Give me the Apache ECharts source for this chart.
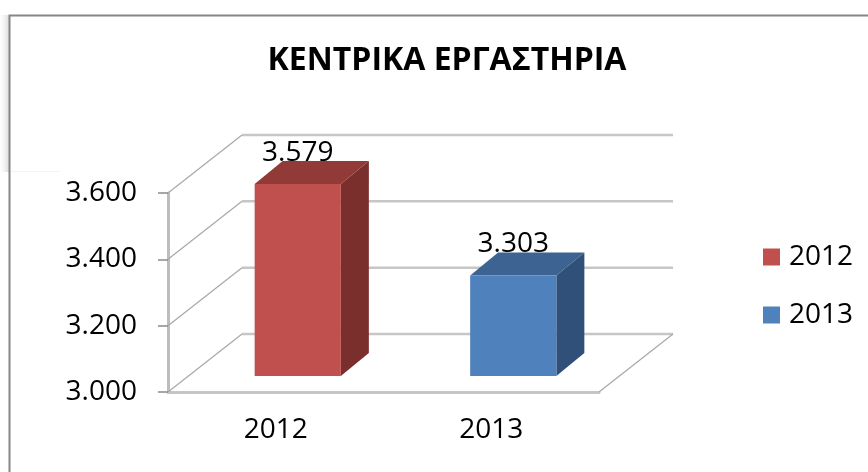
<!DOCTYPE html>
<html>
<head>
<meta charset="utf-8">
<script src="https://cdn.jsdelivr.net/npm/echarts@6/dist/echarts.min.js"></script>
<style>
  html, body { margin: 0; padding: 0; background: #fff; }
  #chart { width: 868px; height: 472px; }
</style>
</head>
<body>
<div id="chart"></div>
<script>
// data
const years = ['2012', '2013']
const values = [3579, 3303]
const yTicks = [3000, 3200, 3400, 3600]
const barColors = [
  { front: '#C0504D', side: '#7B2F2D', top: '#923A38' },
  { front: '#4F81BD', side: '#30507A', top: '#3C6391' }
]

// 3d projection (pixels)
const DX = 74, DY = -58        // full depth of the floor / walls
const FX = 22, FY = -16        // bar front face offset into the floor
const BX = 28, BY = -23        // bar depth
const FONT = 'Open Sans'

// greek style thousands separator: 3579 -> 3.579
function fmt(v) {
  const k = Math.floor(v / 1000)
  return k + '.' + String(v % 1000).padStart(3, '0')
}

function renderWall(params, api) {
  const cs = params.coordSys
  const y = api.coord([0, api.value(1)])[1]
  const x0 = cs.x, x1 = cs.x + cs.width
  const children = [
    { type: 'line', shape: { x1: x0 + DX, y1: y + DY, x2: x1 + DX, y2: y + DY },
      style: { stroke: '#c6c6c6', lineWidth: 2.5 } },
    { type: 'line', shape: { x1: x0, y1: y, x2: x0 + DX, y2: y + DY },
      style: { stroke: '#a8a8a8', lineWidth: 1.2 } }
  ]
  if (params.dataIndex === 0) {
    children.push({ type: 'line', shape: { x1: x1, y1: y, x2: x1 + DX, y2: y + DY },
      style: { stroke: '#a8a8a8', lineWidth: 1.2 } })
  }
  return { type: 'group', children }
}

function renderBar(params, api) {
  const c = barColors[params.seriesIndex - 1]
  const cat = api.value(0)
  const base = api.coord([cat, yTicks[0]])
  const top = api.coord([cat, api.value(1)])
  const w = api.size([1, 0])[0] * 0.4
  const xl = base[0] - w / 2 + FX, xr = xl + w
  const yb = base[1] + FY, yt = top[1] + FY
  return {
    type: 'group',
    children: [
      { type: 'polygon', shape: { points: [[xr, yt], [xr + BX, yt + BY], [xr + BX, yb + BY], [xr, yb]] },
        style: { fill: c.side } },
      { type: 'polygon', shape: { points: [[xl, yt], [xr, yt], [xr + BX, yt + BY], [xl + BX, yt + BY]] },
        style: { fill: c.top } },
      { type: 'rect', shape: { x: xl, y: yt, width: w, height: yb - yt },
        style: { fill: c.front } },
      { type: 'text', x: (xl + xr) / 2, y: yt + BY + 6,
        style: { text: fmt(api.value(1)), fill: '#000', font: '28px "' + FONT + '"',
          textAlign: 'center', textVerticalAlign: 'bottom' } }
    ]
  }
}

const chart = echarts.init(document.getElementById('chart'))

chart.setOption({
  animation: false,
  backgroundColor: '#fff',
  title: {
    text: 'ΚΕΝΤΡΙΚΑ ΕΡΓΑΣΤΗΡΙΑ',
    left: 447, top: 45, textAlign: 'center', padding: 0,
    textStyle: { fontFamily: FONT, fontSize: 32, fontWeight: 'bold', color: '#000' }
  },
  legend: {
    data: years,
    orient: 'vertical',
    left: 763, top: 242, padding: 0,
    icon: 'rect', itemWidth: 17, itemHeight: 17, itemGap: 28,
    textStyle: { fontFamily: FONT, fontSize: 28, lineHeight: 30, color: '#000', padding: [0, 0, 0, 4] }
  },
  grid: { left: 168, top: 193, right: 269, bottom: 80 },
  xAxis: {
    type: 'category',
    data: years,
    axisLine: { lineStyle: { color: '#c6c6c6', width: 3 } },
    axisTick: { length: 8, lineStyle: { color: '#8a8a8a', width: 1.5 } },
    axisLabel: { margin: 24, fontFamily: FONT, fontSize: 28, color: '#000' }
  },
  yAxis: {
    type: 'value',
    min: yTicks[0], max: yTicks[yTicks.length - 1], interval: 200,
    axisLine: { show: true, lineStyle: { color: '#bdbdbd', width: 3 } },
    axisTick: { show: true, length: 10, lineStyle: { color: '#8a8a8a', width: 1.5 } },
    splitLine: { show: false },
    axisLabel: { margin: 31, fontFamily: FONT, fontSize: 28, color: '#000', formatter: fmt }
  },
  series: [
    {
      type: 'custom', name: 'walls', silent: true, z: 1, clip: false,
      renderItem: renderWall,
      encode: { x: 0, y: 1 },
      data: yTicks.map(v => [0, v])
    },
    {
      type: 'custom', name: years[0], z: 3, clip: false,
      itemStyle: { color: barColors[0].front },
      renderItem: renderBar,
      encode: { x: 0, y: 1 },
      data: [[0, values[0]]]
    },
    {
      type: 'custom', name: years[1], z: 3, clip: false,
      itemStyle: { color: barColors[1].front },
      renderItem: renderBar,
      encode: { x: 0, y: 1 },
      data: [[1, values[1]]]
    }
  ],
  graphic: [
    { type: 'rect', shape: { x: 0, y: 15, width: 9, height: 157 }, silent: true,
      style: { fill: new echarts.graphic.LinearGradient(0, 0, 1, 0, [
        { offset: 0, color: 'rgba(220,220,220,0)' }, { offset: 1, color: 'rgba(190,190,190,0.55)' }]) } },
    { type: 'line', shape: { x1: 10, y1: 171.5, x2: 60, y2: 171.5 }, silent: true,
      style: { stroke: '#f4f4f4', lineWidth: 1 } },
    { type: 'polyline', shape: { points: [[9.5, 472], [9.5, 15.5], [868, 15.5]] }, silent: true,
      style: { stroke: '#868686', lineWidth: 2, fill: null } }
  ]
})
</script>
</body>
</html>
